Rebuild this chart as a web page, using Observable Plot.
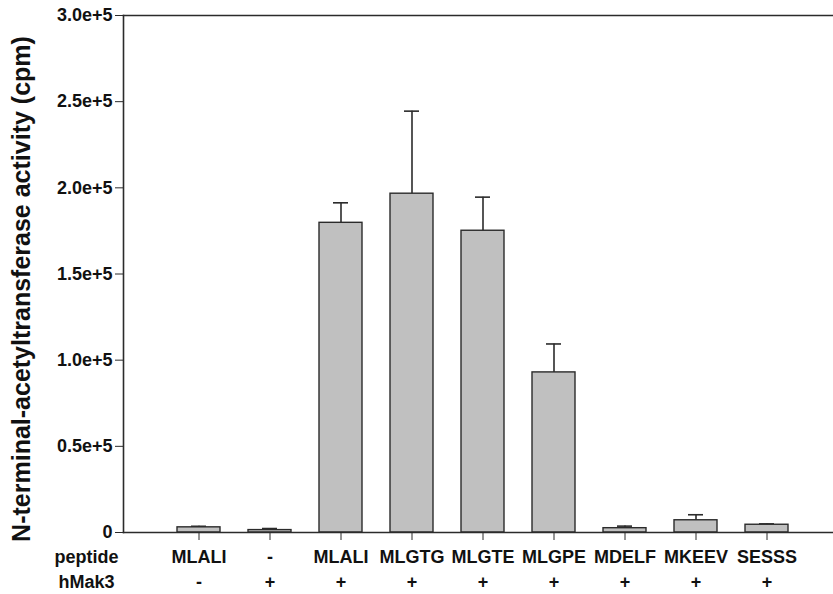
<!DOCTYPE html>
<html>
<head>
<meta charset="utf-8">
<script src="https://cdn.jsdelivr.net/npm/d3@7"></script>
<script src="https://cdn.jsdelivr.net/npm/@observablehq/plot@0.6"></script>
<style>
  html, body { margin: 0; padding: 0; background: #fff; }
  #chart svg { display: block; }
</style>
</head>
<body>
<div id="chart"></div>
<script>
const keys = ["c1", "c2", "c3", "c4", "c5", "c6", "c7", "c8", "c9"];
const peptides = ["MLALI", "-", "MLALI", "MLGTG", "MLGTE", "MLGPE", "MDELF", "MKEEV", "SESSS"];
const hMak3 = ["-", "+", "+", "+", "+", "+", "+", "+", "+"];
const values = [3000, 1400, 179700, 196600, 175100, 92900, 2500, 7100, 4500];
const errors = [600, 900, 11600, 47900, 19500, 16500, 1200, 3200, 500];
const yTicks = [0, 50000, 100000, 150000, 200000, 250000, 300000];
const yTickLabels = ["0", "0.5e+5", "1.0e+5", "1.5e+5", "2.0e+5", "2.5e+5", "3.0e+5"];
const rowLabels = ["peptide", "hMak3"];

const data = keys.map((k, i) => ({
  key: k, peptide: peptides[i], hmak: hMak3[i], value: values[i], err: errors[i], top: values[i] + errors[i]
}));

const ink = "#2b2b2b";
const font = "'Liberation Sans', Arial, Helvetica, sans-serif";

const chart = Plot.plot({
  width: 833,
  height: 594,
  marginLeft: 123,
  marginRight: 0,
  marginTop: 15,
  marginBottom: 62,
  style: { fontFamily: font, background: "#fff", color: ink },
  x: { type: "band", domain: keys, range: [145, 821], paddingInner: 0.3889, paddingOuter: 0.3889, axis: null },
  y: { domain: [0, 300000], axis: null },
  marks: [
    Plot.frame({ anchor: "left", stroke: ink, strokeWidth: 1.6 }),
    Plot.frame({ anchor: "top", stroke: ink, strokeWidth: 1.6 }),
    Plot.ruleX(data, { x: "key", y1: "value", y2: "top", stroke: ink, strokeWidth: 1.6 }),
    Plot.tickY(data, { x: "key", y: "top", stroke: ink, strokeWidth: 1.6, insetLeft: 14, insetRight: 14 }),
    Plot.barY(data, { x: "key", y: "value", fill: "#c0c0c0", stroke: ink, strokeWidth: 1.4 }),
    Plot.frame({ anchor: "bottom", stroke: ink, strokeWidth: 1.6 }),
    Plot.axisY({
      ticks: yTicks,
      tickFormat: (d) => yTickLabels[yTicks.indexOf(d)],
      tickSize: 8,
      tickPadding: 3,
      tickWidth: 1.6,
      stroke: ink,
      fontSize: 18,
      fontWeight: "bold",
      fill: "#111",
      label: null
    }),
    Plot.axisX({ ticks: keys, tickSize: 8, tickWidth: 1.6, stroke: ink, tickFormat: () => "", label: null }),
    Plot.text(data, { x: "key", text: "peptide", frameAnchor: "bottom", lineAnchor: "middle", dy: 25, fontSize: 18, fontWeight: "bold", fill: "#111" }),
    Plot.text(data, { x: "key", text: "hmak", frameAnchor: "bottom", lineAnchor: "middle", dy: 50, fontSize: 18, fontWeight: "bold", fill: "#111" }),
    Plot.text([rowLabels[0]], { text: (d) => d, frameAnchor: "bottom-left", textAnchor: "middle", lineAnchor: "middle", dx: -37, dy: 25, fontSize: 18, fontWeight: "bold", fill: "#111" }),
    Plot.text([rowLabels[1]], { text: (d) => d, frameAnchor: "bottom-left", textAnchor: "middle", lineAnchor: "middle", dx: -37, dy: 50, fontSize: 18, fontWeight: "bold", fill: "#111" }),
    Plot.text(["N-terminal-acetyltransferase activity (cpm)"], { text: (d) => d, frameAnchor: "left", textAnchor: "middle", lineAnchor: "middle", rotate: -90, dx: -102, dy: 15, fontSize: 25, fontWeight: "bold", fill: "#111" })
  ]
});

document.getElementById("chart").appendChild(chart);
</script>
</body>
</html>
